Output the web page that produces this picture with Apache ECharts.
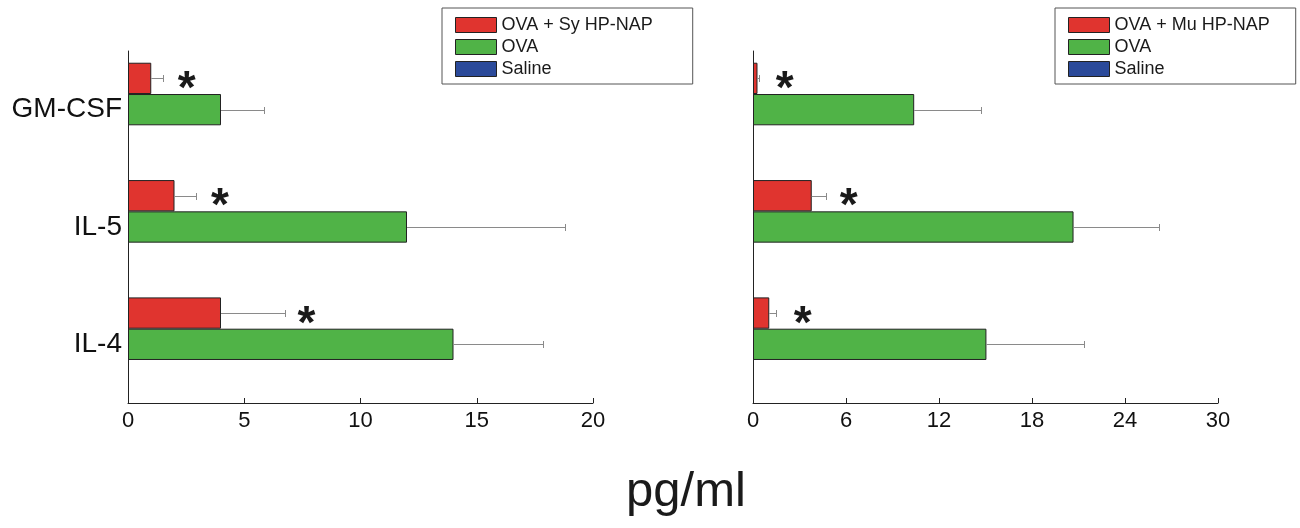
<!DOCTYPE html>
<html>
<head>
<meta charset="utf-8">
<script src="https://cdn.jsdelivr.net/npm/echarts@6/dist/echarts.min.js"></script>
<style>html,body{margin:0;padding:0;background:#fff;}#c{width:1300px;height:528px;}</style>
</head>
<body>
<div id="c"></div>
<script>
// ---- data ----
var categories = ['GM-CSF', 'IL-5', 'IL-4'];
var leftTicks = [0, 5, 10, 15, 20];
var rightTicks = [0, 6, 12, 18, 24, 30];

// Left panel: Sy HP-NAP
var leftNames = ['OVA + Sy HP-NAP', 'OVA', 'Saline'];
var leftTreated = [1.0, 2.0, 4.0];
var leftTreatedUpper = [1.51, 2.94, 6.77];
var leftOVA = [4.0, 12.0, 14.0];
var leftOVAUpper = [5.85, 18.8, 17.85];
var leftSaline = [0, 0, 0];
var leftStarX = [2.53, 3.96, 7.68];

// Right panel: Mu HP-NAP
var rightNames = ['OVA + Mu HP-NAP', 'OVA', 'Saline'];
var rightTreated = [0.29, 3.79, 1.05];
var rightTreatedUpper = [0.36, 4.69, 1.5];
var rightOVA = [10.4, 20.68, 15.06];
var rightOVAUpper = [14.73, 26.2, 21.37];
var rightSaline = [0, 0, 0];
var rightStarX = [2.05, 6.17, 3.2];

var colors = ['#e0342f', '#50b347', '#2b4a9a'];
var FONT = '"Liberation Sans", Arial, sans-serif';

function errData(vals, uppers, slot) {
  return vals.map(function (v, i) { return [v, uppers[i], i, slot]; });
}
function starData(xs) {
  return xs.map(function (x, i) { return [x, i]; });
}

function errRender(params, api) {
  var v = api.value(0), up = api.value(1), ci = api.value(2), slot = api.value(3);
  var band = api.size([0, 1])[1];
  var bw = band * 0.8 / 3;
  var c0 = api.coord([v, ci]);
  var c1 = api.coord([up, ci]);
  var y = Math.round(c0[1] + slot * bw) + 0.5;
  var cap = 3.5;
  var xe = Math.round(c1[0]) + 0.5;
  return {
    type: 'group',
    children: [
      { type: 'line', shape: { x1: c0[0], y1: y, x2: xe, y2: y }, style: { stroke: '#8a8a8a', lineWidth: 1 } },
      { type: 'line', shape: { x1: xe, y1: y - cap, x2: xe, y2: y + cap }, style: { stroke: '#8a8a8a', lineWidth: 1 } }
    ]
  };
}
function starRender(params, api) {
  var x = api.value(0), ci = api.value(1);
  var band = api.size([0, 1])[1];
  var bw = band * 0.8 / 3;
  var c = api.coord([x, ci]);
  return {
    type: 'text',
    x: c[0], y: c[1] - bw + 12,
    style: { text: '*', fontSize: 46, fontWeight: 'bold', fontFamily: FONT, fill: '#1a1a1a', align: 'center', verticalAlign: 'middle' }
  };
}

function barSeries(name, data, colorIdx, gi) {
  return {
    type: 'bar', name: name, data: data, xAxisIndex: gi, yAxisIndex: gi,
    barGap: '0%', barCategoryGap: '20%',
    itemStyle: { color: colors[colorIdx], borderColor: '#222', borderWidth: colorIdx === 2 ? 0 : 1 },
    emphasis: { disabled: true }, animation: false
  };
}

function xAxis(gi, ticks) {
  return {
    type: 'value', gridIndex: gi, min: ticks[0], max: ticks[ticks.length - 1],
    interval: ticks[1] - ticks[0],
    splitLine: { show: false },
    axisLine: { show: true, lineStyle: { color: '#222', width: 1 } },
    axisTick: { show: true, inside: true, length: 5, lineStyle: { color: '#222' } },
    axisLabel: { color: '#111', fontSize: 22, fontFamily: FONT, margin: 7 }
  };
}
function yAxis(gi, showLabel) {
  return {
    type: 'category', gridIndex: gi, data: categories, inverse: true,
    axisLine: { show: true, lineStyle: { color: '#222', width: 1 } },
    axisTick: { show: false },
    axisLabel: { show: showLabel, color: '#111', fontSize: 28, fontFamily: FONT, margin: 6 }
  };
}
function legend(left, names, padRight) {
  return {
    left: left, top: 8, orient: 'vertical',
    data: names, itemWidth: 41, itemHeight: 15, itemGap: 4,
    icon: 'rect',
    borderColor: '#555', borderWidth: 1, padding: [8, padRight, 6, 13],
    textStyle: { color: '#1a1a1a', fontSize: 18, fontFamily: FONT },
    itemStyle: { borderColor: '#222', borderWidth: 1 },
    selectedMode: false
  };
}

var option = {
  animation: false,
  grid: [
    { left: 128, top: 51, width: 465, height: 352 },
    { left: 753, top: 51, width: 465, height: 352 }
  ],
  xAxis: [xAxis(0, leftTicks), xAxis(1, rightTicks)],
  yAxis: [yAxis(0, true), yAxis(1, false)],
  legend: [legend(442, leftNames, 40), legend(1055, rightNames, 26)],
  title: {
    text: 'pg/ml', left: 681, top: 463, textAlign: 'center',
    textStyle: { fontSize: 49, fontWeight: 'normal', color: '#1a1a1a', fontFamily: FONT }
  },
  series: [
    barSeries(leftNames[0], leftTreated, 0, 0),
    barSeries(leftNames[1], leftOVA, 1, 0),
    barSeries(leftNames[2], leftSaline, 2, 0),
    barSeries(rightNames[0], rightTreated, 0, 1),
    barSeries(rightNames[1], rightOVA, 1, 1),
    barSeries(rightNames[2], rightSaline, 2, 1),
    { type: 'custom', xAxisIndex: 0, yAxisIndex: 0, renderItem: errRender, data: errData(leftTreated, leftTreatedUpper, -1), z: 3, silent: true },
    { type: 'custom', xAxisIndex: 0, yAxisIndex: 0, renderItem: errRender, data: errData(leftOVA, leftOVAUpper, 0), z: 3, silent: true },
    { type: 'custom', xAxisIndex: 1, yAxisIndex: 1, renderItem: errRender, data: errData(rightTreated, rightTreatedUpper, -1), z: 3, silent: true },
    { type: 'custom', xAxisIndex: 1, yAxisIndex: 1, renderItem: errRender, data: errData(rightOVA, rightOVAUpper, 0), z: 3, silent: true },
    { type: 'custom', xAxisIndex: 0, yAxisIndex: 0, renderItem: starRender, data: starData(leftStarX), z: 4, silent: true },
    { type: 'custom', xAxisIndex: 1, yAxisIndex: 1, renderItem: starRender, data: starData(rightStarX), z: 4, silent: true }
  ]
};
var chart = echarts.init(document.getElementById('c'), null, { renderer: 'canvas' });
chart.setOption(option);
</script>
</body>
</html>
